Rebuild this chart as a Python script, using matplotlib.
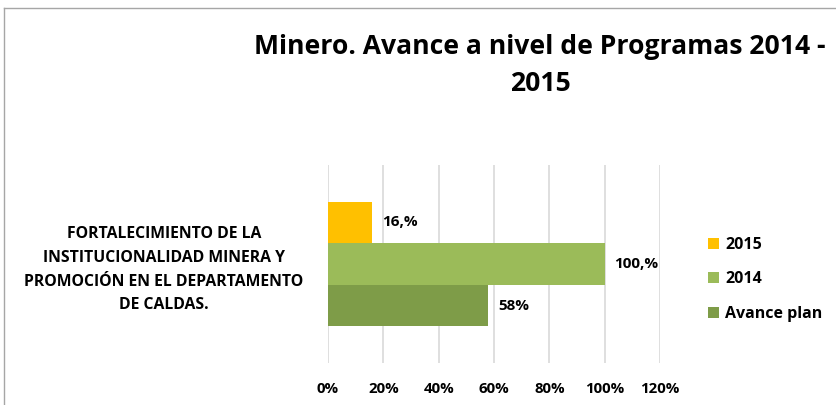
import matplotlib
matplotlib.use("Agg")
import matplotlib.pyplot as plt
import numpy as np

category = ["FORTALECIMIENTO DE LA\nINSTITUCIONALIDAD MINERA Y\nPROMOCIÓN EN EL DEPARTAMENTO\nDE CALDAS."]
series = ["2015", "2014", "Avance plan"]
values = [0.16, 1.00, 0.58]
value_labels = ["16,%", "100,%", "58%"]
colors = ["#FFC000", "#9BBB59", "#7E9C48"]
xticks = [0, 0.2, 0.4, 0.6, 0.8, 1.0, 1.2]
xtick_labels = ["0%", "20%", "40%", "60%", "80%", "100%", "120%"]

plt.rcParams["font.family"] = ["Open Sans", "DejaVu Sans"]
plt.rcParams["font.weight"] = "bold"

fig = plt.figure(figsize=(8.36, 4.05), dpi=100)
ax = fig.add_axes([328 / 836, 1 - 363 / 405, 332 / 836, 198 / 405])

bar_h = 0.21
offsets = [bar_h, 0.0, -bar_h]
for name, val, lab, col, off in zip(series, values, value_labels, colors, offsets):
    ax.barh(off, val, height=bar_h, color=col, label=name, zorder=3)
    ax.annotate(lab, (val, off), textcoords="offset points", xytext=(7, 0),
                ha="left", va="center", fontsize=11, fontweight="bold")

ax.set_xlim(0, 1.2)
ax.set_ylim(-0.5, 0.5)
ax.set_xticks(xticks, xtick_labels, fontsize=10.8, fontweight="bold")
ax.set_yticks([0], category)
for t in ax.get_yticklabels():
    t.set_ha("center")
    t.set_multialignment("center")
    t.set_fontsize(11.3)
    t.set_fontweight("bold")
    t.set_linespacing(1.64)
ax.tick_params(axis="y", length=0, pad=118)
ax.tick_params(axis="x", length=0, pad=14)
ax.grid(True, axis="x", color="#d9d9d9", linewidth=1.2, zorder=0)
for s in ax.spines.values():
    s.set_visible(False)

ax.legend(loc="center left", bbox_to_anchor=(1.102, 0.422), frameon=False,
          handlelength=0.7, handleheight=0.7, handletextpad=0.35,
          labelspacing=1.15, prop={"weight": "bold", "size": 11.5})

fig.text(540 / 836, 1 - 65.5 / 405, "Minero. Avance a nivel de Programas 2014 -\n2015",
         ha="center", va="center", fontsize=19.1, fontweight="bold", linespacing=1.57)

# chart border (cropped at right and bottom)
fig.add_artist(plt.Line2D([4 / 836, 4 / 836], [0, 1 - 8 / 405], transform=fig.transFigure,
                          color="#a6a6a6", linewidth=1))
fig.add_artist(plt.Line2D([4 / 836, 1], [1 - 8 / 405, 1 - 8 / 405], transform=fig.transFigure,
                          color="#a6a6a6", linewidth=1))

fig.savefig("out.png", dpi=100)
